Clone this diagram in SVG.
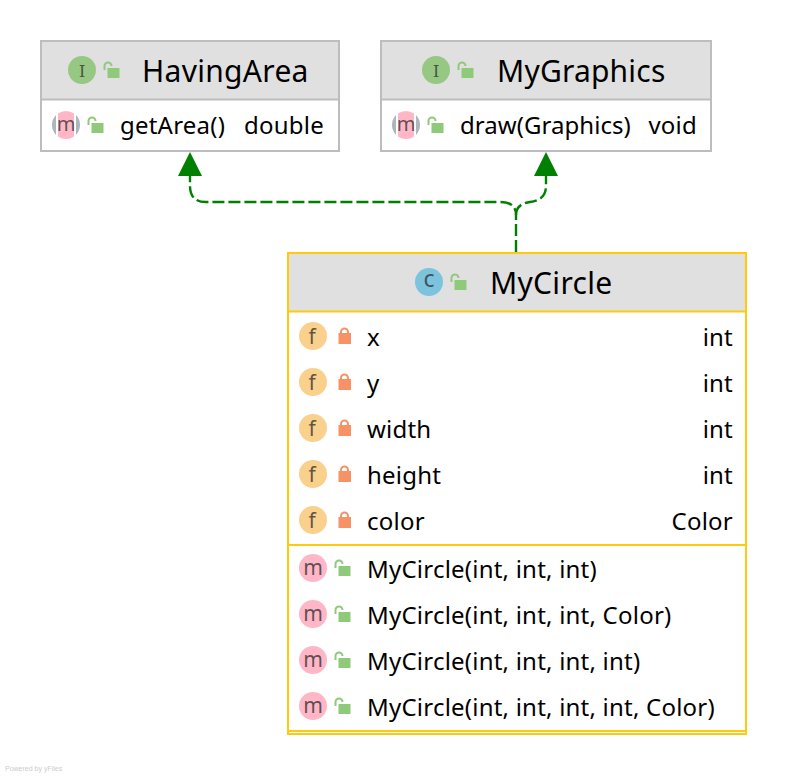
<svg xmlns="http://www.w3.org/2000/svg" xmlns:xlink="http://www.w3.org/1999/xlink" width="788" height="776" viewBox="0 0 788 776">
<style>
text{font-family:"Noto Sans","Open Sans",sans-serif;fill:#000}
.t{font-size:30px;letter-spacing:.3px}
.r{font-size:24px;letter-spacing:.22px}
.e{text-anchor:end}
.g{fill:#fff;stroke:#bdbdbd;stroke-width:2}
.y{fill:#fff;stroke:#ffc90e;stroke-width:2}
.gl{stroke:#bdbdbd;stroke-width:2;fill:none}
.yl{stroke:#ffc90e;stroke-width:2;fill:none}
.ic{font-size:21px;text-anchor:middle;fill:#333;fill-opacity:.78}
.c{fill:none;stroke:#008000;stroke-width:2.400;stroke-dasharray:12 4}
</style>
<defs>
<g id="open"><rect x="-4.500" y="-3" width="12" height="10" fill="#8fc97a"/><path d="M-7.500 -1V-5a3.500 3.500 0 0 1 7 0" fill="none" stroke="#8fc97a" stroke-width="2"/></g>
<g id="priv"><rect x="-6.500" y="-3" width="12.500" height="11" fill="#f79166"/><path d="M-4 -3V-4a3.500 3.500 0 0 1 7 0V-3" fill="none" stroke="#f79166" stroke-width="2"/></g>
<g id="fi"><circle r="14" fill="#f9d08c"/><text x="-1" y="8" class="ic">f</text></g>
<g id="me"><circle r="14" fill="#ffb6c6"/><text y="6.500" class="ic">m</text></g>
<g id="ma"><circle r="14" fill="#adb5bd"/><rect x="-10" y="-15" width="20" height="30" fill="#fff"/><path d="M-8 -11.500A14 14 0 0 1 8 -11.500V11.500A14 14 0 0 1 -8 11.500Z" fill="#ffb6c6"/><text y="6" class="ic" style="font-size:20px">m</text></g>
<g id="ii"><circle r="14" fill="#96c883"/><text y="7" class="ic" style="font-family:'DejaVu Serif',serif;font-size:17px">I</text></g>
</defs>
<g id="connectors">
<path class="c" d="M516 252V215Q516 202 500 202H206Q190 202 190 186V176"/>
<path class="c" d="M516 215Q516 204 530 202Q546 200 546 186V176"/>
<path d="M190 152L202 176H178Z" fill="#008000"/>
<path d="M546 152L558 176H534Z" fill="#008000"/>
</g>
<g id="HavingArea">
<rect class="g" x="41" y="41" width="298" height="110"/>
<rect x="42" y="42" width="296" height="57" fill="#e0e0e0"/>
<path class="gl" d="M41 99.500H339"/>
<use xlink:href="#ii" x="82" y="70"/><use xlink:href="#open" x="112" y="71"/>
<text class="t" x="142" y="82">HavingArea</text>
<use xlink:href="#ma" x="66" y="125"/><use xlink:href="#open" x="96" y="126"/>
<text class="r" x="120" y="134">getArea()</text>
<text class="r e" x="324" y="134">double</text>
</g>
<g id="MyGraphics">
<rect class="g" x="381" y="41" width="330" height="110"/>
<rect x="382" y="42" width="328" height="57" fill="#e0e0e0"/>
<path class="gl" d="M381 99.500H711"/>
<use xlink:href="#ii" x="436" y="70"/><use xlink:href="#open" x="466" y="71"/>
<text class="t" x="497" y="82" style="letter-spacing:.2px">MyGraphics</text>
<use xlink:href="#ma" x="406" y="125"/><use xlink:href="#open" x="436" y="126"/>
<text class="r" x="460" y="134" style="letter-spacing:.05px">draw(Graphics)</text>
<text class="r e" x="697" y="134">void</text>
</g>
<g id="MyCircle">
<rect class="y" x="288" y="253" width="458" height="481"/>
<rect x="289" y="254" width="456" height="57" fill="#e0e0e0"/>
<path class="yl" d="M288 311.500H746M288 545H746M288 731H746"/>
<circle cx="429" cy="282" r="14" fill="#7cc4de"/><text x="429" y="287" class="ic" style="font-size:23px">c</text>
<use xlink:href="#open" x="459" y="283"/>
<text class="t" x="490" y="294">MyCircle</text>
<use xlink:href="#fi" x="313" y="336"/><use xlink:href="#priv" x="345" y="336"/><text class="r" x="367" y="346">x</text><text class="r e" x="733" y="346">int</text>
<use xlink:href="#fi" x="313" y="382"/><use xlink:href="#priv" x="345" y="382"/><text class="r" x="367" y="392">y</text><text class="r e" x="733" y="392">int</text>
<use xlink:href="#fi" x="313" y="428"/><use xlink:href="#priv" x="345" y="428"/><text class="r" x="367" y="438">width</text><text class="r e" x="733" y="438">int</text>
<use xlink:href="#fi" x="313" y="474"/><use xlink:href="#priv" x="345" y="474"/><text class="r" x="367" y="484">height</text><text class="r e" x="733" y="484">int</text>
<use xlink:href="#fi" x="313" y="520"/><use xlink:href="#priv" x="345" y="520"/><text class="r" x="367" y="530">color</text><text class="r e" x="733" y="530">Color</text>
<use xlink:href="#me" x="313" y="568"/><use xlink:href="#open" x="343" y="569"/><text class="r" x="367" y="578">MyCircle(int, int, int)</text>
<use xlink:href="#me" x="313" y="614"/><use xlink:href="#open" x="343" y="615"/><text class="r" x="367" y="624">MyCircle(int, int, int, Color)</text>
<use xlink:href="#me" x="313" y="660"/><use xlink:href="#open" x="343" y="661"/><text class="r" x="367" y="670">MyCircle(int, int, int, int)</text>
<use xlink:href="#me" x="313" y="706"/><use xlink:href="#open" x="343" y="707"/><text class="r" x="367" y="716">MyCircle(int, int, int, int, Color)</text>
</g>
<text x="5" y="771" style="font-size:7px;fill:#ccc;font-family:'Liberation Sans',sans-serif">Powered by yFiles</text>
</svg>
